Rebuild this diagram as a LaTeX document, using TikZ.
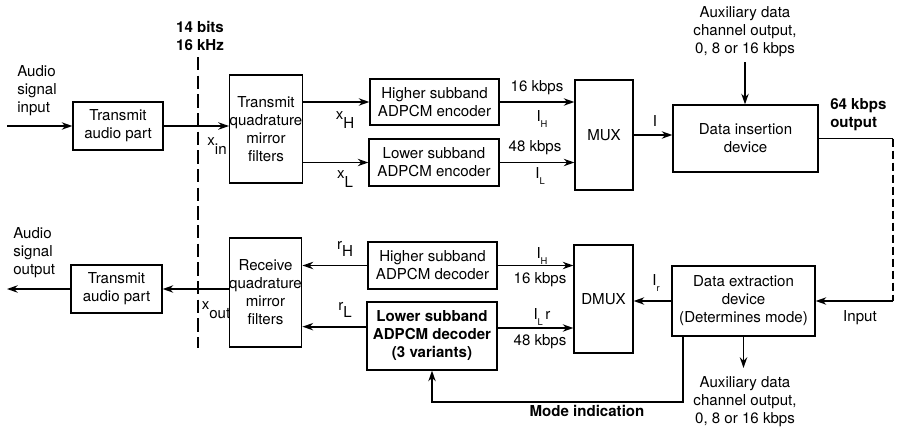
\documentclass[tikz,border=0pt]{standalone}
\usepackage{fontspec}
\setmainfont{TeX Gyre Heros}
\usetikzlibrary{arrows.meta}

\begin{document}
\begin{tikzpicture}[x=0.75pt, y=-0.75pt,
    font=\fontsize{11.3}{13.5}\selectfont,
    blk/.style 2 args={draw=black, line width=0.9pt, align=center, inner sep=0pt,
              minimum width=#1*0.75pt, minimum height=#2*0.75pt},
    sig/.style={draw=black, line width=1.3pt, -{Stealth[length=8pt,width=5.5pt]}},
    wire/.style={draw=black, line width=1.3pt},
    lab/.style={inner sep=0pt, align=center},
    bold/.style={font=\fontsize{11.3}{13.5}\selectfont\bfseries}]
  \useasboundingbox (0,0) rectangle (902,439);
  % transmit side
  \node[blk={90}{48}]  (tap1) at (118,126)   {Transmit\\audio part};
  \node[blk={68}{108}] (tqmf) at (266,129)   {Transmit\\quadrature\\mirror\\filters};
  \node[blk={129}{46}] (henc) at (434.5,102) {Higher subband\\ADPCM encoder};
  \node[blk={130}{47}] (lenc) at (434,162.5) {Lower subband\\ADPCM encoder};
  \node[blk={58}{110}] (mux)  at (604,135)   {MUX};
  \node[blk={145}{67}] (ins)  at (745.5,138.5) {Data insertion\\device};
  % receive side
  \node[blk={143}{70}] (ext)  at (743.5,301) {Data extraction\\device\\(Determines mode)};
  \node[blk={59}{108}] (dmux) at (603.5,299) {DMUX};
  \node[blk={129}{47}] (hdec) at (432.5,265.5) {Higher subband\\ADPCM decoder};
  \node[blk={130}{68}, bold] (ldec) at (432,336) {Lower subband\\ADPCM decoder\\(3 variants)};
  \node[blk={69}{109}] (rqmf) at (265.5,292.5) {Receive\\quadrature\\mirror\\filters};
  \node[blk={91}{48}]  (tap2) at (116.5,289) {Transmit\\audio part};

  \node[lab, align=left, anchor=west] (ain)  at (17,91)  {Audio\\signal\\input};
  \node[lab, align=left, anchor=west] (aout) at (13,253) {Audio\\signal\\output};
  \node[lab, bold] (rate) at (200,36) {14 bits\\16 kHz};
  \node[lab] (auxt) at (745,32)  {Auxiliary data\\channel output,\\0, 8 or 16 kbps};
  \node[lab] (auxb) at (745,402) {Auxiliary data\\channel output,\\0, 8 or 16 kbps};
  \node[lab, bold, align=left, anchor=west] (outl) at (830,115) {64 kbps\\output};
  \node[lab] (inl)  at (860,318) {Input};
  \node[lab, bold] (model) at (587,411) {Mode indication};

  \coordinate (srcin)  at (7,126);
  \coordinate (snkout) at (7,289);
  \coordinate (dtop)   at (198,57);
  \coordinate (dbot)   at (198,348);
  \coordinate (auxin)  at (745,62);
  \coordinate (auxout) at (743.5,368);
  \coordinate (lnk1)   at (893,138.5);
  \coordinate (lnk2)   at (893,301);
  \coordinate (modec)  at (683,402);

  \draw[black, line width=1pt, dash pattern=on 10pt off 4pt] (dtop) -- (dbot);

  \draw[sig] (srcin) -- (tap1.west);
  \draw[sig] (tap1.east) -- (tap1.east -| tqmf.west);
  \draw[sig] (tqmf.east |- henc.west) -- (henc.west);
  \draw[sig] (tqmf.east |- lenc.west) -- (lenc.west);
  \draw[sig] (henc.east) -- (henc.east -| mux.west);
  \draw[sig] (lenc.east) -- (lenc.east -| mux.west);
  \draw[sig] (mux.east) -- (mux.east -| ins.west);
  \draw[sig] (auxin) -- (auxin |- ins.north);
  \draw[wire] (ins.east) -- (lnk1);
  \draw[black, line width=1.3pt, dash pattern=on 6pt off 3pt] (lnk1) -- (lnk2);
  \draw[sig] (lnk2) -- (ext.east);
  \draw[sig] (ext.west) -- (ext.west -| dmux.east);
  \draw[sig] (ext.south) -- (auxout);
  \draw[sig] (ext.south -| modec) -- (modec) -- (modec -| ldec.south) -- (ldec.south);
  \draw[sig] (hdec.east) -- (hdec.east -| dmux.west);
  \draw[sig] ([yshift=6pt]ldec.east) -- ([yshift=6pt]ldec.east -| dmux.west);
  \draw[sig] (hdec.west) -- (hdec.west -| rqmf.east);
  \draw[sig] ([yshift=7pt]ldec.west) -- ([yshift=7pt]ldec.west -| rqmf.east);
  \draw[sig] (tap2.east -| rqmf.west) -- (tap2.east);
  \draw[sig] (tap2.west) -- (snkout);

  \node[lab] (xin)  at (217,146) {x\raisebox{-1.1ex}{in}};
  \node[lab] (xh)   at (345,120) {x\raisebox{-1.1ex}{H}};
  \node[lab] (xl)   at (345,179) {x\raisebox{-1.1ex}{L}};
  \node[lab] (xout) at (216,310) {x\raisebox{-1.1ex}{out}};
  \node[lab] (ihe)  at (542,119) {I\raisebox{-0.8ex}{\scriptsize H}};
  \node[lab] (ile)  at (540,176) {I\raisebox{-0.8ex}{\scriptsize L}};
  \node[lab] (rhe)  at (537,88)  {16 kbps};
  \node[lab] (rle)  at (535,148) {48 kbps};
  \node[lab] (ii)   at (655,121) {I};
  \node[lab] (ir)   at (656,283) {I\raisebox{-0.8ex}{\scriptsize r}};
  \node[lab] (ihd)  at (542,256) {I\raisebox{-0.8ex}{\scriptsize H}};
  \node[lab] (rhd)  at (540,280) {16 kbps};
  \node[lab] (ild)  at (542,317) {I\raisebox{-0.8ex}{\scriptsize L}\,r};
  \node[lab] (rld)  at (540,342) {48 kbps};
  \node[lab] (rh)   at (345,249) {r\raisebox{-0.9ex}{H}};
  \node[lab] (rl)   at (345,310) {r\raisebox{-0.9ex}{L}};
\end{tikzpicture}
\end{document}
